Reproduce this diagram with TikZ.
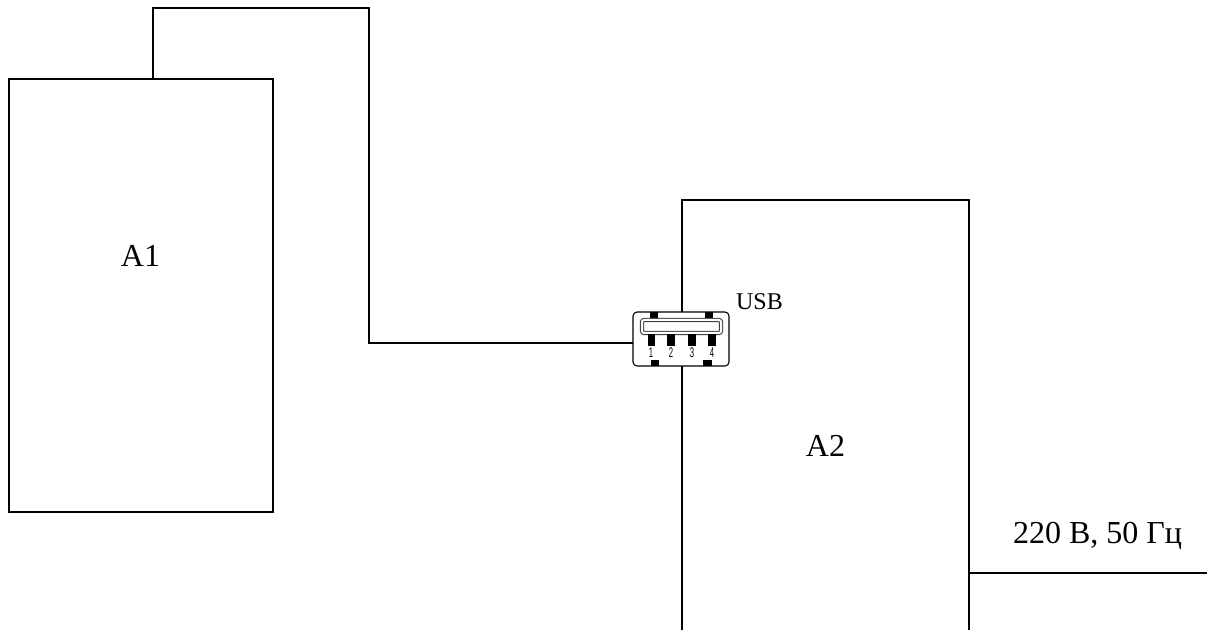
\documentclass[tikz,border=0pt]{standalone}
\usepackage{fontspec}
\setmainfont{Liberation Serif}
\newfontfamily\pinfont{Liberation Sans}
\tikzset{
  x=0.75pt,y=-0.75pt,
  wire/.style={draw=black,line width=1.5pt,line join=miter},
  lbl/.style={inner sep=0pt,font=\fontsize{24}{24}\selectfont,text=black},
  usblbl/.style={inner sep=0pt,font=\fontsize{18}{18}\selectfont,text=black},
  pinlbl/.style={inner sep=0pt,font=\pinfont\fontsize{10.5}{10.5}\selectfont,xscale=0.55,text=black},
  pad/.style={fill=black,draw=none},
  shell/.style={draw=black,line width=0.8pt,fill=white,rounded corners=3pt},
  tongue/.style={draw=black!75,line width=0.8pt,fill=white,double=white,double distance=1.5pt,rounded corners=1.5pt}
}
\begin{document}
\begin{tikzpicture}
\useasboundingbox (0,0) rectangle (1207,630);
% A1 block
\coordinate (a1tl) at (9,79);
\coordinate (a1br) at (273,512);
\coordinate (a1out) at (153,79);
\coordinate (w1) at (153,8);
\coordinate (w2) at (369,8);
\coordinate (w3) at (369,343);
\coordinate (usbl) at (633,343);
\draw[wire] (a1tl) rectangle (a1br);
\draw[wire] (a1out) -- (w1) -- (w2) -- (w3) -- (usbl);
\node[lbl] (A1) at (140.5,256) {A1};
% A2 block, open at the bottom
\coordinate (a2bl) at (682,631);
\coordinate (a2tl) at (682,200);
\coordinate (a2tr) at (969,200);
\coordinate (a2br) at (969,631);
\draw[wire] (a2bl) -- (a2tl) -- (a2tr) -- (a2br);
\node[lbl] (A2) at (825.5,446) {A2};
% mains
\coordinate (mainsA) at (969,573);
\coordinate (mainsB) at (1207,573);
\draw[wire] (mainsA) -- (mainsB);
\node[lbl] (mains) at (1097.5,536) {220 В, 50 Гц};
% USB connector
\draw[shell] (633,312) rectangle (729,366);
\fill[pad] (650,312) rectangle (658,319);
\fill[pad] (705,312) rectangle (713,319);
\fill[pad] (651,360) rectangle (659,366);
\fill[pad] (703,360) rectangle (712,366);
\draw[tongue] (642,320) rectangle (721,333);
\fill[pad] (648,334) rectangle (655,346);
\fill[pad] (667,334) rectangle (675,346);
\fill[pad] (688,334) rectangle (696,346);
\fill[pad] (708,334) rectangle (716,346);
\node[pinlbl] (p1) at (651,353) {1};
\node[pinlbl] (p2) at (671,353) {2};
\node[pinlbl] (p3) at (692,353) {3};
\node[pinlbl] (p4) at (712,353) {4};
\node[usblbl] (usb) at (759.5,302) {USB};
\end{tikzpicture}
\end{document}
